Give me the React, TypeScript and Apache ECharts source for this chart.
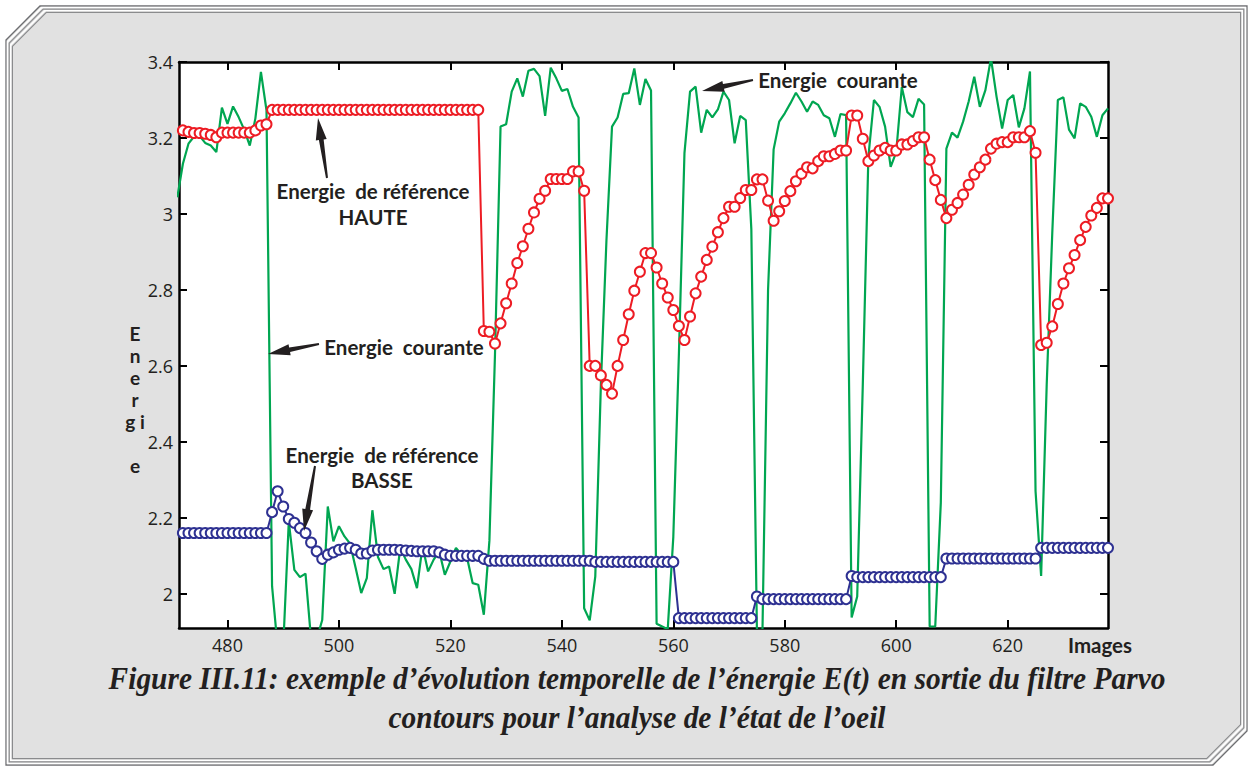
import React, { useEffect, useRef } from "react";
import * as echarts from "echarts";

// Frame numbers start at 471 (one value per image)
const FIRST_FRAME = 471;

// Energie courante (green), frames 471..638
const ENERGIE_COURANTE: number[] = [
  3.044, 3.132, 3.185, 3.204, 3.205, 3.187, 3.18, 3.163, 3.28, 3.237, // 471-480
  3.283, 3.255, 3.222, 3.18, 3.251, 3.374, 3.273, 2.02, 1.86, 1.86, // 481-490
  2.19, 2.063, 2.044, 2.053, 1.88, 1.88, 1.931, 2.23, 2.138, 2.178, // 491-500
  2.151, 2.132, 2.068, 2.002, 2.041, 2.22, 2.097, 2.065, 2.072, 2.0, // 501-510
  2.121, 2.09, 2.065, 2.015, 2.125, 2.059, 2.09, 2.112, 2.05, 2.085, // 511-520
  2.121, 2.103, 2.094, 2.028, 2.024, 1.945, 2.14, 2.63, 3.23, 3.236, // 521-530
  3.322, 3.357, 3.309, 3.377, 3.382, 3.363, 3.258, 3.385, 3.357, 3.324, // 531-540
  3.329, 3.282, 3.254, 1.962, 1.93, 2.046, 2.55, 2.93, 3.23, 3.254, // 541-550
  3.316, 3.318, 3.383, 3.287, 3.355, 3.325, 1.921, 1.914, 1.907, 2.15, // 551-560
  2.63, 3.16, 3.322, 3.335, 3.214, 3.274, 3.254, 3.275, 3.322, 3.3, // 561-570
  3.186, 3.258, 3.247, 2.96, 1.905, 1.905, 2.8, 3.17, 3.243, 3.265, // 571-580
  3.291, 3.319, 3.296, 3.269, 3.296, 3.287, 3.26, 3.252, 3.203, 3.263, // 581-590
  3.26, 1.938, 1.993, 2.55, 3.15, 3.3, 3.282, 3.23, 3.124, 3.163, // 591-600
  3.334, 3.268, 3.255, 3.303, 3.288, 1.914, 1.914, 2.24, 3.172, 3.214, // 601-610
  3.201, 3.243, 3.296, 3.361, 3.282, 3.326, 3.41, 3.309, 3.225, 3.3, // 611-620
  3.313, 3.228, 3.278, 3.375, 2.27, 2.047, 2.55, 2.95, 3.3, 3.307, // 621-630
  3.222, 3.199, 3.291, 3.282, 3.256, 3.203, 3.26, 3.278, // 631-638
];

// Energie de reference HAUTE (red), frames 471..638
const REF_HAUTE: (number | null)[] = [
  null, 3.22, 3.216, 3.213, 3.213, 3.211, 3.208, 3.202, 3.214, 3.214, // 471-480
  3.214, 3.214, 3.214, 3.214, 3.22, 3.233, 3.236, 3.274, 3.274, 3.274, // 481-490
  3.274, 3.274, 3.274, 3.274, 3.274, 3.274, 3.274, 3.274, 3.274, 3.274, // 491-500
  3.274, 3.274, 3.274, 3.274, 3.274, 3.274, 3.274, 3.274, 3.274, 3.274, // 501-510
  3.274, 3.274, 3.274, 3.274, 3.274, 3.274, 3.274, 3.274, 3.274, 3.274, // 511-520
  3.274, 3.274, 3.274, 3.274, 3.274, 2.692, 2.69, 2.659, 2.712, 2.765, // 521-530
  2.817, 2.871, 2.915, 2.961, 3.004, 3.04, 3.061, 3.092, 3.092, 3.092, // 531-540
  3.092, 3.112, 3.112, 3.061, 2.6, 2.6, 2.575, 2.55, 2.527, 2.6, // 541-550
  2.668, 2.736, 2.798, 2.848, 2.897, 2.897, 2.859, 2.817, 2.78, 2.747, // 551-560
  2.705, 2.668, 2.73, 2.791, 2.835, 2.879, 2.914, 2.952, 2.989, 3.019, // 561-570
  3.019, 3.042, 3.063, 3.063, 3.091, 3.091, 3.035, 2.982, 3.007, 3.034, // 571-580
  3.06, 3.086, 3.106, 3.123, 3.12, 3.139, 3.152, 3.152, 3.158, 3.167, // 581-590
  3.167, 3.259, 3.259, 3.198, 3.139, 3.154, 3.167, 3.174, 3.167, 3.167, // 591-600
  3.183, 3.183, 3.192, 3.202, 3.202, 3.143, 3.089, 3.037, 2.989, 3.011, // 601-610
  3.029, 3.051, 3.077, 3.104, 3.123, 3.143, 3.172, 3.185, 3.189, 3.189, // 611-620
  3.202, 3.202, 3.202, 3.218, 3.161, 2.655, 2.661, 2.704, 2.763, 2.817, // 621-630
  2.857, 2.892, 2.931, 2.966, 2.996, 3.016, 3.041, 3.041, // 631-638
];

// Energie de reference BASSE (blue), frames 471..638
const REF_BASSE: (number | null)[] = [
  null, 2.16, 2.16, 2.16, 2.16, 2.16, 2.16, 2.16, 2.16, 2.16, // 471-480
  2.16, 2.16, 2.16, 2.16, 2.16, 2.16, 2.16, 2.215, 2.27, 2.23, // 481-490
  2.197, 2.187, 2.173, 2.16, 2.135, 2.112, 2.092, 2.103, 2.109, 2.116, // 491-500
  2.119, 2.121, 2.116, 2.106, 2.106, 2.114, 2.116, 2.116, 2.116, 2.116, // 501-510
  2.115, 2.114, 2.113, 2.112, 2.112, 2.112, 2.112, 2.109, 2.103, 2.1, // 511-520
  2.1, 2.1, 2.1, 2.1, 2.1, 2.092, 2.087, 2.087, 2.087, 2.087, // 521-530
  2.087, 2.087, 2.087, 2.087, 2.087, 2.087, 2.087, 2.087, 2.087, 2.087, // 531-540
  2.087, 2.087, 2.087, 2.087, 2.087, 2.084, 2.084, 2.084, 2.084, 2.084, // 541-550
  2.084, 2.084, 2.084, 2.084, 2.084, 2.084, 2.084, 2.084, 2.084, 2.084, // 551-560
  1.936, 1.936, 1.936, 1.936, 1.936, 1.936, 1.936, 1.936, 1.936, 1.936, // 561-570
  1.936, 1.936, 1.936, 1.936, 1.993, 1.986, 1.986, 1.986, 1.986, 1.986, // 571-580
  1.986, 1.986, 1.986, 1.986, 1.986, 1.986, 1.986, 1.986, 1.986, 1.986, // 581-590
  1.986, 2.047, 2.044, 2.044, 2.044, 2.044, 2.044, 2.044, 2.044, 2.044, // 591-600
  2.044, 2.044, 2.044, 2.044, 2.044, 2.044, 2.044, 2.044, 2.093, 2.093, // 601-610
  2.093, 2.093, 2.093, 2.093, 2.093, 2.093, 2.093, 2.093, 2.093, 2.093, // 611-620
  2.093, 2.093, 2.093, 2.093, 2.093, 2.121, 2.121, 2.121, 2.121, 2.121, // 621-630
  2.121, 2.121, 2.121, 2.121, 2.121, 2.121, 2.121, 2.121, // 631-638
];

const X_TICKS = [480, 500, 520, 540, 560, 580, 600, 620];
const Y_TICKS = [2, 2.2, 2.4, 2.6, 2.8, 3, 3.2, 3.4];
const X_MIN = 471.3;
const X_MAX = 638;
const Y_MIN = 1.91;
const Y_MAX = 3.4;

const TITLE_LINE_1 =
  "Figure III.11: exemple d\u2019évolution temporelle de l\u2019énergie E(t) en sortie du filtre Parvo";
const TITLE_LINE_2 = "contours pour l\u2019analyse de l\u2019état de l\u2019oeil";
const Y_NAME = "E\nn\ne\nr\ng i\n\ne";

const INK = "#231f20";
const GREEN = "#00a651";
const RED = "#ed1c24";
const BLUE = "#2e3192";

const toPairs = (arr: (number | null)[]) =>
  arr.map((v, i) => [FIRST_FRAME + i, v]);

function arrowPoints(
  tip: number[],
  tail: number[],
  headLen: number,
  headHalf: number,
  neckHalf: number,
  tailHalf: number
) {
  const dx = tip[0] - tail[0];
  const dy = tip[1] - tail[1];
  const L = Math.hypot(dx, dy);
  const ux = dx / L;
  const uy = dy / L;
  const px = -uy;
  const py = ux;
  const bx = tip[0] - ux * headLen;
  const by = tip[1] - uy * headLen;
  return [
    [tip[0], tip[1]],
    [bx + px * headHalf, by + py * headHalf],
    [bx + px * neckHalf, by + py * neckHalf],
    [tail[0] + px * tailHalf, tail[1] + py * tailHalf],
    [tail[0] - px * tailHalf, tail[1] - py * tailHalf],
    [bx - px * neckHalf, by - py * neckHalf],
    [bx - px * headHalf, by - py * headHalf],
  ];
}

function framePoints(d: number) {
  const x0 = 6 + d;
  const y0 = 6 + d;
  const x1 = 1247 - d;
  const y1 = 765 - d;
  const c = 34;
  return [
    [x0, y0 + c],
    [x0 + c, y0],
    [x1, y0],
    [x1, y1 - c],
    [x1 - c, y1],
    [x0, y1],
  ];
}

export default function App() {
  const ref = useRef<HTMLDivElement>(null);

  useEffect(() => {
    if (!ref.current) return;
    const chart = echarts.init(ref.current, null, { renderer: "svg" });

    const labelFont = {
      fontFamily: "Open Sans",
      fontSize: 18,
      color: INK,
    };
    const annFont = {
      fontFamily: "Lato",
      fontWeight: "bold",
      fontSize: 20.5,
      fill: INK,
    };

    const axisLine = { show: true, lineStyle: { color: "#000", width: 2.5 } };
    const tick = (vals: number[]) => ({
      show: true,
      inside: true,
      length: 8,
      customValues: vals,
      lineStyle: { color: "#000", width: 2 },
    });

    const captionStyle = {
      align: "center",
      verticalAlign: "middle",
      fontFamily: "Liberation Serif",
      fontStyle: "italic",
      fontWeight: "bold",
      fontSize: 32,
      fill: INK,
    };

    const graphic: any[] = [
      {
        type: "polygon",
        z: -20,
        silent: true,
        shape: { points: framePoints(0) },
        style: { fill: "#e1e1e1", stroke: "#6d6e71", lineWidth: 1.3 },
      },
      {
        type: "polygon",
        z: -19,
        silent: true,
        shape: { points: framePoints(1.6) },
        style: { fill: "none", stroke: "#ffffff", lineWidth: 1.6 },
      },
      {
        type: "polygon",
        z: -19,
        silent: true,
        shape: { points: framePoints(3.2) },
        style: { fill: "none", stroke: "#8a8b8d", lineWidth: 1.2 },
      },
      {
        type: "polygon",
        z: -19,
        silent: true,
        shape: { points: framePoints(4.8) },
        style: { fill: "none", stroke: "#ffffff", lineWidth: 1.6 },
      },
      {
        type: "polygon",
        z: -19,
        silent: true,
        shape: { points: framePoints(6.4) },
        style: { fill: "none", stroke: "#8a8b8d", lineWidth: 1.2 },
      },
      // annotations
      {
        type: "text",
        x: 373,
        y: 191,
        z: 50,
        style: { text: "Energie  de référence", align: "center", verticalAlign: "middle", ...annFont },
      },
      {
        type: "text",
        x: 373,
        y: 217,
        z: 50,
        style: { text: "HAUTE", align: "center", verticalAlign: "middle", ...annFont },
      },
      {
        type: "polygon",
        z: 50,
        shape: { points: arrowPoints([318, 118], [327, 178], 22, 5.5, 2.4, 1.0) },
        style: { fill: INK },
      },
      {
        type: "text",
        x: 404,
        y: 347,
        z: 50,
        style: { text: "Energie  courante", align: "center", verticalAlign: "middle", ...annFont },
      },
      {
        type: "polygon",
        z: 50,
        shape: { points: arrowPoints([268, 354], [319, 344], 22, 5.5, 2.4, 1.0) },
        style: { fill: INK },
      },
      {
        type: "text",
        x: 838,
        y: 80,
        z: 50,
        style: { text: "Energie  courante", align: "center", verticalAlign: "middle", ...annFont },
      },
      {
        type: "polygon",
        z: 50,
        shape: { points: arrowPoints([702, 91], [753, 80], 22, 5.5, 2.4, 1.0) },
        style: { fill: INK },
      },
      {
        type: "text",
        x: 382,
        y: 455,
        z: 50,
        style: { text: "Energie  de référence", align: "center", verticalAlign: "middle", ...annFont },
      },
      {
        type: "text",
        x: 382,
        y: 480,
        z: 50,
        style: { text: "BASSE", align: "center", verticalAlign: "middle", ...annFont },
      },
      {
        type: "polygon",
        z: 50,
        shape: { points: arrowPoints([304, 531], [315, 466], 22, 5.5, 2.4, 1.0) },
        style: { fill: INK },
      },
      // axis name "Images"
      {
        type: "text",
        x: 1100,
        y: 645,
        z: 50,
        style: { text: "Images", align: "center", verticalAlign: "middle", ...annFont },
      },
      // y axis name, letters stacked vertically
      {
        type: "text",
        x: 135,
        y: 322,
        z: 50,
        style: {
          text: Y_NAME,
          align: "center",
          verticalAlign: "top",
          lineHeight: 22,
          ...annFont,
          fontSize: 19,
        },
      },
      // caption
      {
        type: "text",
        x: 637,
        y: 679,
        scaleX: 0.92,
        z: 50,
        style: { text: TITLE_LINE_1, ...captionStyle },
      },
      {
        type: "text",
        x: 637,
        y: 718,
        scaleX: 0.92,
        z: 50,
        style: { text: TITLE_LINE_2, ...captionStyle },
      },
    ];

    chart.setOption({
      animation: false,
      backgroundColor: "#ffffff",
      grid: {
        left: 179,
        top: 62,
        width: 929,
        height: 566,
        show: true,
        backgroundColor: "#ffffff",
        borderWidth: 0,
      },
      xAxis: [
        {
          type: "value",
          position: "bottom",
          min: X_MIN,
          max: X_MAX,
          axisLine,
          axisTick: tick(X_TICKS),
          axisLabel: { customValues: X_TICKS, margin: 8, ...labelFont },
          splitLine: { show: false },
        },
        {
          type: "value",
          position: "top",
          min: X_MIN,
          max: X_MAX,
          axisLine,
          axisTick: tick(X_TICKS),
          axisLabel: { show: false },
          splitLine: { show: false },
        },
      ],
      yAxis: [
        {
          type: "value",
          position: "left",
          min: Y_MIN,
          max: Y_MAX,
          axisLine,
          axisTick: tick(Y_TICKS),
          axisLabel: {
            customValues: Y_TICKS,
            margin: 6,
            formatter: (v: number) => String(Math.round(v * 10) / 10),
            ...labelFont,
          },
          splitLine: { show: false },
        },
        {
          type: "value",
          position: "right",
          min: Y_MIN,
          max: Y_MAX,
          axisLine,
          axisTick: tick(Y_TICKS),
          axisLabel: { show: false },
          splitLine: { show: false },
        },
      ],
      series: [
        {
          name: "Energie courante",
          type: "line",
          data: toPairs(ENERGIE_COURANTE),
          showSymbol: false,
          clip: true,
          z: 2,
          lineStyle: { color: GREEN, width: 2.2 },
          itemStyle: { color: GREEN },
        },
        {
          name: "Energie de référence HAUTE",
          type: "line",
          data: toPairs(REF_HAUTE),
          symbol: "emptyCircle",
          symbolSize: 10,
          showSymbol: true,
          showAllSymbol: true,
          clip: true,
          z: 3,
          lineStyle: { color: RED, width: 2 },
          itemStyle: { color: RED, borderColor: RED, borderWidth: 2.2 },
        },
        {
          name: "Energie de référence BASSE",
          type: "line",
          data: toPairs(REF_BASSE),
          symbol: "emptyCircle",
          symbolSize: 10,
          showSymbol: true,
          showAllSymbol: true,
          clip: true,
          z: 4,
          lineStyle: { color: BLUE, width: 2 },
          itemStyle: { color: BLUE, borderColor: BLUE, borderWidth: 2.2 },
        },
      ],
      graphic,
    });

    return () => chart.dispose();
  }, []);

  return (
    <div
      ref={ref}
      style={{ position: "fixed", left: 0, top: 0, width: 1253, height: 769 }}
    />
  );
}
